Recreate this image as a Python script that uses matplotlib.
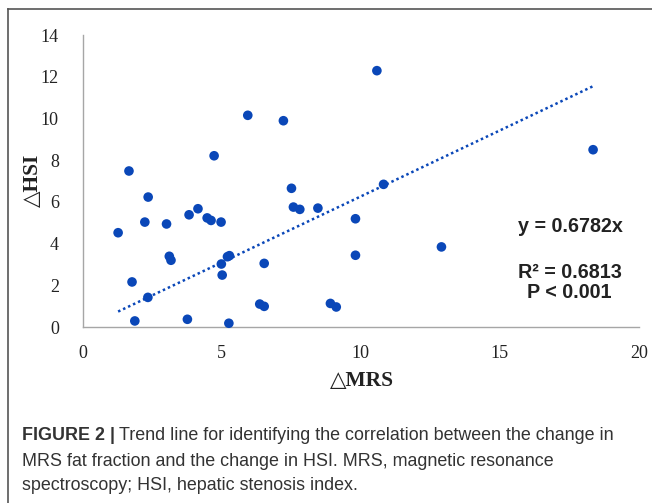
import matplotlib
matplotlib.use("Agg")
import matplotlib.pyplot as plt
from matplotlib.lines import Line2D
import numpy as np

# ---- data ----
delta_mrs = [1.28, 1.67, 1.78, 1.88, 2.24, 2.36, 2.35, 3.02, 3.12, 3.18,
             3.77, 3.83, 4.15, 4.48, 4.62, 4.73, 4.98, 4.99, 5.02, 5.21,
             5.28, 5.26, 5.94, 6.37, 6.53, 6.53, 7.22, 7.51, 7.58, 7.81,
             8.46, 8.91, 9.12, 9.81, 9.81, 10.58, 10.82, 12.90, 18.35]
delta_hsi = [4.52, 7.48, 2.16, 0.29, 5.03, 6.23, 1.42, 4.94, 3.39, 3.20,
             0.37, 5.38, 5.67, 5.23, 5.11, 8.21, 5.03, 3.02, 2.49, 3.37,
             3.42, 0.18, 10.15, 1.10, 0.99, 3.05, 9.89, 6.65, 5.75, 5.64,
             5.70, 1.13, 0.96, 5.19, 3.44, 12.29, 6.84, 3.84, 8.50]
trend_slope = 0.633
trend_intercept = -0.07
x_ticks = [0, 5, 10, 15, 20]
y_ticks = [0, 2, 4, 6, 8, 10, 12, 14]

W, H = 652, 503
fig = plt.figure(figsize=(W / 100, H / 100), dpi=100)
fig.patch.set_facecolor("white")

def fx(px):
    return px / W

def fy(py):
    return 1 - py / H

# outer frame (left and top edges visible)
fig.add_artist(Line2D([fx(8), fx(8)], [fy(9), fy(H + 5)], color="#555555", lw=1.2,
                      transform=fig.transFigure))
fig.add_artist(Line2D([fx(8), fx(W + 5)], [fy(9), fy(9)], color="#555555", lw=1.2,
                      transform=fig.transFigure))

left, right, top, bottom = 82.5, 639, 35, 327
ax = fig.add_axes([fx(left), fy(bottom), fx(right - left), (bottom - top) / H])
ax.set_xlim(0, 20)
ax.set_ylim(0, 14)
ax.set_facecolor("none")

color = "#0A47B8"
ax.scatter(delta_mrs, delta_hsi, s=48, color=color, edgecolors="none", zorder=3,
           clip_on=False)

xs = np.array([min(delta_mrs), max(delta_mrs)])
ax.plot(xs, trend_slope * xs + trend_intercept, linestyle=(0, (1, 1.2)),
        color=color, lw=1.8, zorder=2)

for s in ["top", "right"]:
    ax.spines[s].set_visible(False)
for s in ["left", "bottom"]:
    ax.spines[s].set_color("#A6A6A6")
    ax.spines[s].set_linewidth(1.0)

serif = ["Liberation Serif", "DejaVu Serif"]
ax.set_xticks(x_ticks)
ax.set_yticks(y_ticks)
ax.tick_params(length=0, labelsize=13, colors="#222222")
ax.tick_params(axis="x", pad=13)
ax.tick_params(axis="y", pad=17)
for lab in ax.get_xticklabels() + ax.get_yticklabels():
    lab.set_family(serif)

fig.text(fx(362), fy(381), "\u25b3MRS", family=serif, fontweight="bold",
         fontsize=15.5, ha="center", va="center", color="#222222")
fig.text(fx(33), fy(180), "\u25b3HSI", family=serif, fontweight="bold",
         fontsize=15.5, ha="center", va="center", rotation=90, color="#222222")

sans = ["Liberation Sans", "DejaVu Sans"]
fig.text(fx(570), fy(227), "y = 0.6782x", family=sans, fontweight="bold",
         fontsize=14.2, ha="center", va="center", color="#222222")
fig.text(fx(570), fy(272), "R\u00b2 = 0.6813", family=sans, fontweight="bold",
         fontsize=14.2, ha="center", va="center", color="#222222")
fig.text(fx(569), fy(293), "P < 0.001", family=sans, fontweight="bold",
         fontsize=14.2, ha="center", va="center", color="#222222")

# caption
cap_color = "#333333"
cap_size = 12.9
t = fig.text(fx(22), fy(436), "FIGURE 2 |", family=sans, fontweight="bold",
             fontsize=cap_size, ha="left", va="center", color=cap_color)
fig.canvas.draw()
bb = t.get_window_extent()
fig.text(bb.x1 / W + 4 / W, fy(436),
         "Trend line for identifying the correlation between the change in",
         family=sans, fontsize=cap_size, ha="left", va="center", color=cap_color)
fig.text(fx(22), fy(461),
         "MRS fat fraction and the change in HSI. MRS, magnetic resonance",
         family=sans, fontsize=cap_size, ha="left", va="center", color=cap_color)
fig.text(fx(22), fy(486),
         "spectroscopy; HSI, hepatic stenosis index.",
         family=sans, fontsize=cap_size, ha="left", va="center", color=cap_color)

fig.savefig("out.png", dpi=100, facecolor="white")
